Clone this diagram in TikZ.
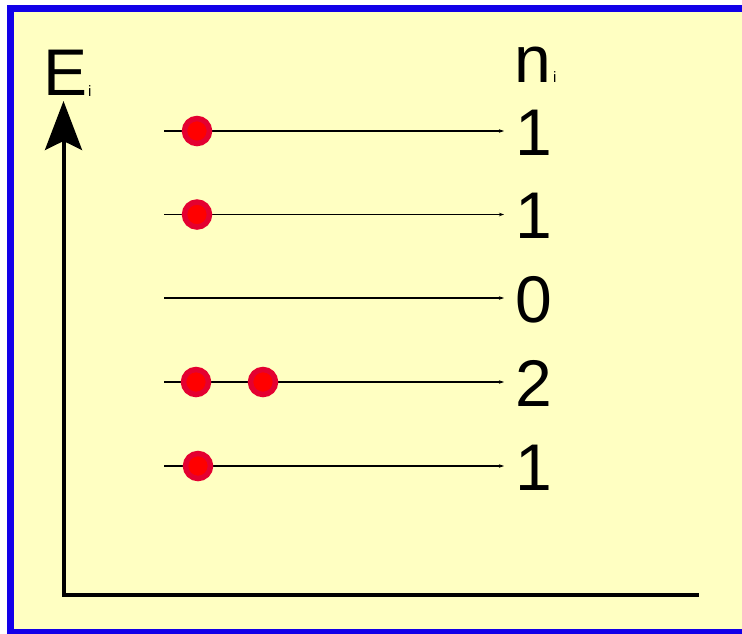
\documentclass[tikz,border=0pt]{standalone}
\usepackage{fontspec}
\setmainfont{Liberation Sans}
\usepackage{xcolor}
\usetikzlibrary{arrows.meta,positioning}

\definecolor{paper}{RGB}{255,255,194}
\definecolor{frameblue}{RGB}{18,0,232}
\definecolor{dotring}{RGB}{228,0,48}

\begin{document}
\begin{tikzpicture}[x=1pt,y=-1pt,
    big/.style={inner sep=0pt,font=\fontsize{66}{70}\selectfont},
    tiny/.style={inner sep=0pt,font=\fontsize{15}{16}\selectfont},
    level/.style={line width=1.3pt,-{Stealth[length=5pt,width=3.5pt]}},
    dot/.style={circle,fill=red,draw=dotring,line width=5.5pt,minimum size=25pt,inner sep=0pt}]
        \useasboundingbox (0,0) rectangle (742,633);
        \clip (0,0) rectangle (742,633);
        \fill[white] (0,0) rectangle (742,633);
        \fill[paper] (10.5,8.5) rectangle (760,640);
        \draw[frameblue,line width=7pt] (10.5,8.5) rectangle (760,632.5);
        % axes
        \coordinate (O) at (63.5,595);
        \coordinate (ytip) at (63.5,101);
        \coordinate (xend) at (699,595);
        \draw[line width=4pt,{Stealth[length=49pt,width=37pt,inset=9pt]}-] (ytip) -- (O) -- (xend);
        \node[big,anchor=base west] (E) at (43,95) {E};
        \node[tiny,anchor=base west] (Ei) at (88,96) {i};
        \node[big,anchor=base west] (n) at (514.5,82) {n};
        \node[tiny,anchor=base west] (ni) at (553,82) {i};
        % levels with occupation numbers
        \foreach \k/\y/\num in {1/131/1,2/214.5/1,3/298/0,4/382/2,5/466/1}{
            \coordinate (s\k) at (164,\y);
            \coordinate (e\k) at (504,\y);
            \draw[level] (s\k) -- (e\k);
            \node[big,anchor=base] (occ\k) at (534,\y+24) {\num};
        }
        % particles
        \node[dot] (p1) at (197,131) {};
        \node[dot] (p2) at (197,214.5) {};
        \node[dot] (p3) at (196,382) {};
        \node[dot] (p4) at (263,382) {};
        \node[dot] (p5) at (198,466) {};
    \end{tikzpicture}
\end{document}
